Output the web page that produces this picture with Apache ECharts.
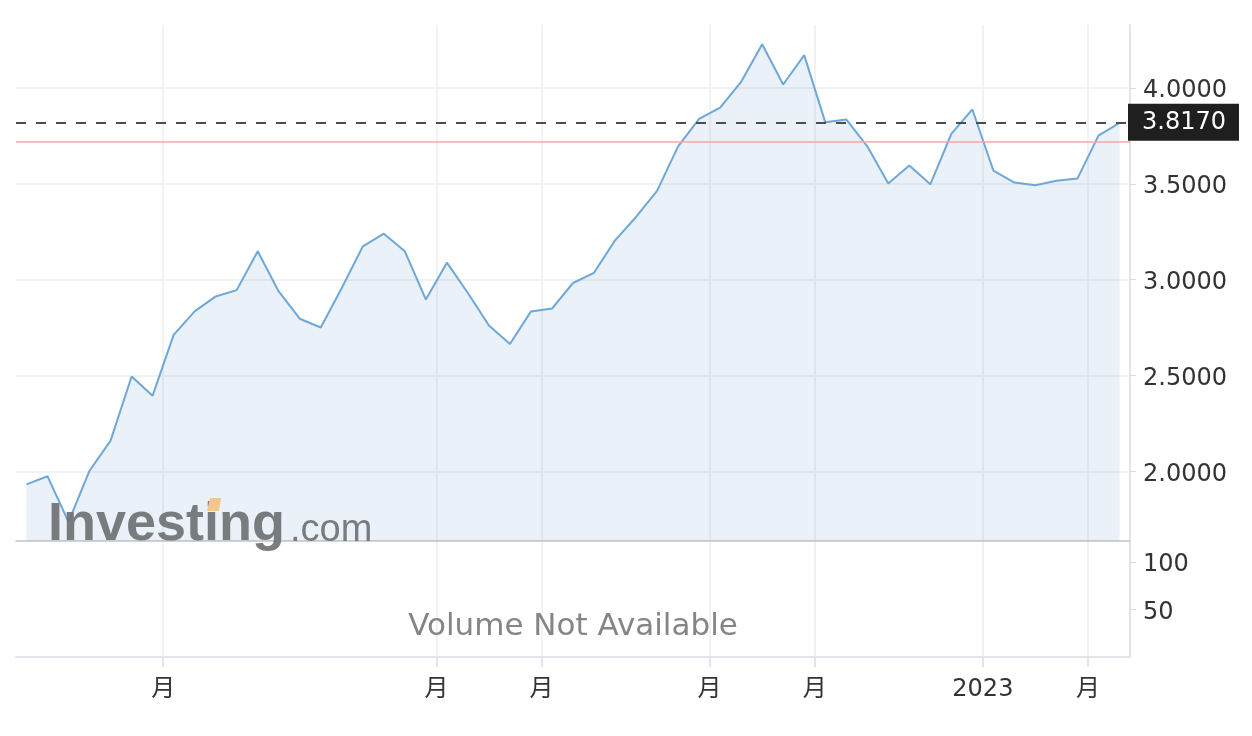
<!DOCTYPE html>
<html>
<head>
<meta charset="utf-8">
<style>
html,body{margin:0;padding:0;background:#ffffff;}
#chart{width:1252px;height:736px;}
</style>
<script src="https://cdn.jsdelivr.net/npm/echarts@6.0.0/dist/echarts.min.js"></script>
</head>
<body>
<div id="chart"></div>
<script>
// Weekly closing values (week index 0..52)
const prices = [
  1.934, 1.976, 1.739, 2.005, 2.162, 2.496, 2.396, 2.713, 2.835, 2.913,
  2.946, 3.148, 2.939, 2.797, 2.751, 2.957, 3.174, 3.240, 3.148, 2.897,
  3.089, 2.931, 2.762, 2.665, 2.835, 2.850, 2.983, 3.036, 3.205, 3.327,
  3.463, 3.695, 3.838, 3.897, 4.031, 4.227, 4.017, 4.170, 3.821, 3.835,
  3.695, 3.501, 3.595, 3.497, 3.760, 3.887, 3.569, 3.506, 3.492, 3.516,
  3.527, 3.751, 3.817
];
const lastPrice = 3.817;
const prevClose = 3.724;
const priceTicks = [2.0, 2.5, 3.0, 3.5, 4.0];
const volumeTicks = [50, 100];
const monthTickPositions = [6.5, 19.5, 24.5, 32.5, 37.5, 45.5, 50.5];
const monthTickLabels = ['月', '月', '月', '月', '月', '2023', '月'];
const volumeMessage = 'Volume Not Available';
const watermarkMain = 'Investing';
const watermarkSuffix = '.com';

const FONT = '"DejaVu Sans", "Noto Sans CJK JP", sans-serif';
const chart = echarts.init(document.getElementById('chart'), null, { renderer: 'canvas' });
const seriesData = prices.map((v, i) => [i, v]);
function monthLabel(v) {
  const k = monthTickPositions.findIndex(p => Math.abs(p - v) < 1e-6);
  return k >= 0 ? monthTickLabels[k] : '';
}

const gridLineColor = '#f1f2f3';
const option = {
  animation: false,
  backgroundColor: '#ffffff',
  grid: [
    { left: 16, right: 122, top: 25, height: 516 },
    { left: 16, right: 122, top: 541, height: 116 }
  ],
  xAxis: [
    {
      type: 'value', gridIndex: 0, min: -0.5, max: 52.5,
      axisLine: { show: true, onZero: false, lineStyle: { color: '#c4c4c4', width: 1.5 } },
      axisTick: { show: false, customValues: monthTickPositions },
      axisLabel: { show: false, customValues: monthTickPositions },
      splitLine: { show: true, lineStyle: { color: gridLineColor, width: 2 } }
    },
    {
      type: 'value', gridIndex: 1, min: -0.5, max: 52.5,
      axisLine: { show: true, onZero: false, lineStyle: { color: '#e1e5ea', width: 2 } },
      axisTick: { show: true, length: 10, customValues: monthTickPositions, lineStyle: { color: '#e1e5ea', width: 2 } },
      axisLabel: { show: true, customValues: monthTickPositions, formatter: monthLabel,
        fontFamily: FONT, fontSize: 24, color: '#333333', margin: 21 },
      splitLine: { show: true, lineStyle: { color: gridLineColor, width: 2 } }
    }
  ],
  yAxis: [
    {
      type: 'value', gridIndex: 0, position: 'right', min: 1.639, max: 4.327,
      axisLine: { show: true, onZero: false, lineStyle: { color: '#e1e5ea', width: 2 } },
      axisTick: { show: true, length: 6, customValues: priceTicks, lineStyle: { color: '#d6d9dd', width: 1 } },
      axisLabel: { show: true, customValues: priceTicks, formatter: v => Number(v).toFixed(4),
        fontFamily: FONT, fontSize: 24, color: '#333333', margin: 13,
        verticalAlign: 'top', lineHeight: 6 },
      splitLine: { show: true, lineStyle: { color: gridLineColor, width: 2 } }
    },
    {
      type: 'value', gridIndex: 1, position: 'right', min: 0, max: 122.1,
      axisLine: { show: true, onZero: false, lineStyle: { color: '#e1e5ea', width: 2 } },
      axisTick: { show: true, length: 6, customValues: volumeTicks, lineStyle: { color: '#d6d9dd', width: 1 } },
      axisLabel: { show: true, customValues: volumeTicks, formatter: v => String(v),
        fontFamily: FONT, fontSize: 24, color: '#333333', margin: 13,
        verticalAlign: 'top', lineHeight: 6 },
      splitLine: { show: false }
    }
  ],
  series: [
    {
      name: 'Price', type: 'line', xAxisIndex: 0, yAxisIndex: 0,
      data: seriesData, symbol: 'none', smooth: false, z: 3,
      lineStyle: { color: '#6ea8d8', width: 2 },
      areaStyle: { color: 'rgba(80,130,190,0.16)', origin: 'start' },
      markLine: {
        silent: true, symbol: ['none', 'none'], animation: false,
        data: [
          {
            yAxis: prevClose,
            lineStyle: { type: 'solid', color: '#f6a7a7', width: 1.5 },
            label: { show: false }
          },
          {
            yAxis: lastPrice,
            lineStyle: { type: [10, 10], color: '#4d4d4d', width: 2 },
            label: {
              show: true, position: 'end', distance: -2,
              formatter: lastPrice.toFixed(4),
              backgroundColor: '#1f1f1f', color: '#ffffff',
              fontFamily: FONT, fontSize: 24, lineHeight: 29,
              padding: [5, 13, 3, 14]
            }
          }
        ]
      }
    },
    {
      name: 'Volume', type: 'bar', xAxisIndex: 1, yAxisIndex: 1, data: []
    }
  ],
  graphic: [
    {
      type: 'text', x: 573, y: 627, z: 5, silent: true,
      style: { text: volumeMessage, textAlign: 'center', textVerticalAlign: 'middle',
        font: '31px "DejaVu Sans", sans-serif', fill: '#858585' }
    },
    {
      type: 'text', x: 48, y: 525, z: 10, silent: true,
      style: { text: watermarkMain, textAlign: 'left', textVerticalAlign: 'middle',
        font: 'bold 54px "Liberation Sans", Arial, sans-serif', fill: '#6f7274', opacity: 0.92 }
    },
    {
      type: 'text', x: 290, y: 531, z: 10, silent: true,
      style: { text: watermarkSuffix, textAlign: 'left', textVerticalAlign: 'middle',
        font: '38px "Liberation Sans", Arial, sans-serif', fill: '#6f7274', opacity: 0.92 }
    },
    {
      type: 'polygon', z: 11, silent: true,
      shape: { points: [[210, 498], [221, 498], [219, 511], [207, 511]] },
      style: { fill: '#f3c68a' }
    }
  ]
};
chart.setOption(option);
</script>
</body>
</html>
